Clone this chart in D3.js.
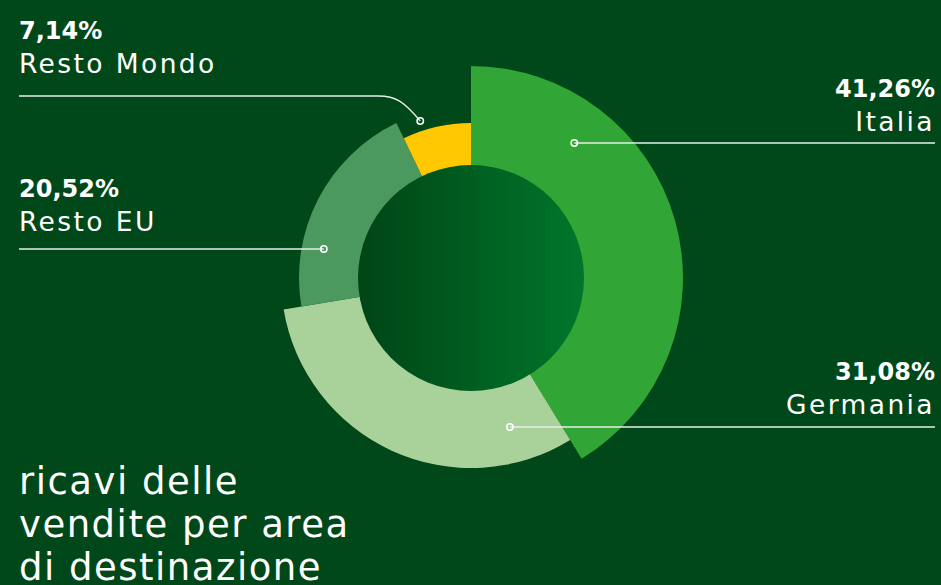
<!DOCTYPE html>
<html>
<head>
<meta charset="utf-8">
<script src="https://cdn.jsdelivr.net/npm/d3@7"></script>
<style>
  body { margin: 0; background: #00471a; }
  svg { display: block; }
  text { font-family: "DejaVu Sans", sans-serif; fill: #fff; }
</style>
</head>
<body>
<div id="chart"></div>
<script>
const categories = ['Italia', 'Germania', 'Resto EU', 'Resto Mondo']
const shares = [41.26, 31.08, 20.52, 7.14]
const shareLabels = ['41,26%', '31,08%', '20,52%', '7,14%']
const sliceColors = ['#31a535', '#a9d29b', '#4b995e', '#ffc800']
const titleLines = ['ricavi delle', 'vendite per area', 'di destinazione']

function draw_donut() {
    const width = 941, height = 585
    const cx = 471, cy = 278
    const innerR = 113
    // each slice sticks out by a different amount
    const outerR = [212, 190, 172, 155]

    const svg = d3.select('#chart').append('svg')
        .attr('width', width).attr('height', height)

    const defs = svg.append('defs')
    const grad = defs.append('linearGradient').attr('id', 'hole')
        .attr('x1', '0%').attr('x2', '100%').attr('y1', '0%').attr('y2', '0%')
    grad.append('stop').attr('offset', '0%').attr('stop-color', '#004516')
    grad.append('stop').attr('offset', '100%').attr('stop-color', '#00762b')

    svg.append('rect').attr('width', width).attr('height', height).attr('fill', '#00471a')

    const pie = d3.pie().sort(null).value(d => d)
    const arcs = pie(shares)
    const arc = d3.arc().innerRadius(innerR - 1).outerRadius((d, i) => outerR[d.index])

    const g = svg.append('g').attr('transform', `translate(${cx},${cy})`)
    g.selectAll('path.slice').data(arcs).join('path')
        .attr('class', 'slice')
        .attr('d', d => arc(d))
        .attr('fill', (d, i) => sliceColors[i])

    g.append('circle').attr('r', innerR).attr('fill', 'url(#hole)')

    // label layout: side, y of the leader line, radius where the dot sits
    const layout = [
        {side: 'right', lineY: 143, dotR: 170, textY: 97},
        {side: 'right', lineY: 427, dotR: 154, textY: 380},
        {side: 'left', lineY: 249, dotR: 150, textY: 197},
        {side: 'left', lineY: 96, dotR: 165, textY: 39, dotY: 121}
    ]

    const labels = svg.append('g')
    layout.forEach(function (l, i) {
        const dy = (l.dotY || l.lineY) - cy
        const dx = Math.sqrt(l.dotR * l.dotR - dy * dy)
        const dotX = l.side === 'right' ? cx + dx : cx - dx
        const dotY = cy + dy
        const lineEnd = l.side === 'right' ? 935 : 19

        let path
        if (l.dotY) {
            const bendX = dotX - 42
            path = `M${lineEnd},${l.lineY} L${bendX},${l.lineY} C${bendX + 18},${l.lineY} ${bendX + 26},${l.lineY + 6} ${dotX},${dotY}`
        } else {
            path = `M${dotX},${dotY} L${lineEnd},${l.lineY}`
        }
        labels.append('path').attr('d', path)
            .attr('fill', 'none').attr('stroke', '#e6efe6').attr('stroke-width', 1.3)
        labels.append('circle').attr('cx', dotX).attr('cy', dotY).attr('r', 3.2)
            .attr('fill', 'none').attr('stroke', '#fff').attr('stroke-width', 1.5)

        const anchor = l.side === 'right' ? 'end' : 'start'
        const tx = l.side === 'right' ? 935 : 19
        labels.append('text').attr('x', tx).attr('y', l.textY)
            .attr('text-anchor', anchor)
            .style('font-size', '24px').style('font-weight', 'bold')
            .text(shareLabels[i])
        labels.append('text').attr('x', tx).attr('y', l.textY + 34)
            .attr('text-anchor', anchor)
            .style('font-size', '26.5px').style('letter-spacing', '2.4px')
            .text(categories[i])
    })

    svg.append('g').selectAll('text').data(titleLines).join('text')
        .attr('x', 19).attr('y', (d, i) => 494 + i * 43)
        .style('font-size', '37px').style('letter-spacing', '1.5px')
        .text(d => d)
}

draw_donut()
</script>
</body>
</html>
